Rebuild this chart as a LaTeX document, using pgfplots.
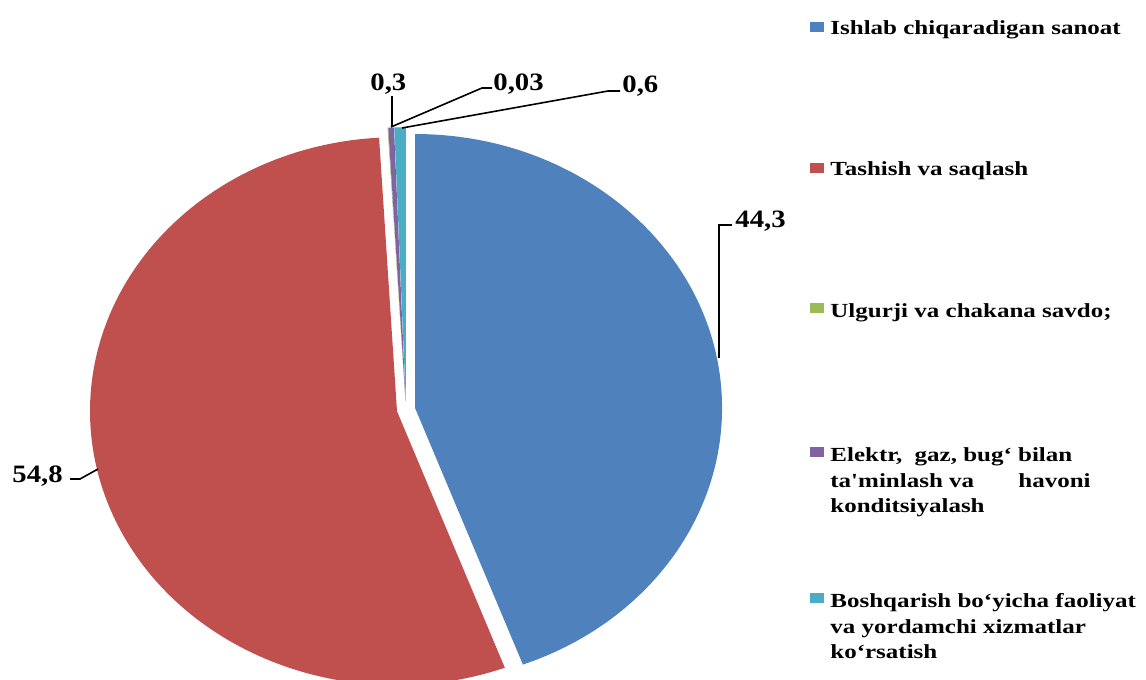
\documentclass[border=0pt]{standalone}
\usepackage{pgfplots}
\pgfplotsset{compat=1.18}
\usepackage{pgfplotstable}
\usepackage{fontspec}
\setmainfont{Liberation Serif}
\newfontfamily\legfont[FakeStretch=1.25]{Liberation Serif}
\newfontfamily\lblfont[FakeStretch=1.15]{Liberation Serif}
\definecolor{cA}{HTML}{4F81BD}
\definecolor{cB}{HTML}{C0504D}
\definecolor{cC}{HTML}{9BBB59}
\definecolor{cD}{HTML}{8064A2}
\definecolor{cE}{HTML}{4BACC6}

% shares, in the order of the slices (clockwise from 12 o'clock)
\pgfplotstableread{
value
44.3
54.8
0.03
0.3
0.6
}\piedata

% pie geometry in pixel units of the picture
\def\pcx{406}\def\pcy{409.5}\def\prx{307}\def\pry{274}\def\pex{0.03}

\newcommand\pieslice[3]{%
  \pgfmathsetmacro\pmid{(#1+#2)/2}%
  \pgfmathsetmacro\pax{\pcx+\pex*\prx*cos(\pmid)}%
  \pgfmathsetmacro\pay{\pcy-\pex*\pry*sin(\pmid)}%
  \pgfmathsetmacro\ppx{\pax+\prx*cos(#1)}%
  \pgfmathsetmacro\ppy{\pay-\pry*sin(#1)}%
  \pgfmathsetmacro\prxpt{\prx*0.5}%
  \pgfmathsetmacro\prypt{\pry*0.5}%
  \edef\ptemp{\noexpand\addplot[fill=#3, draw=none, forget plot] coordinates {(\pax,\pay)} -- (axis cs:\ppx,\ppy) arc[start angle=#1, end angle=#2, x radius=\prxpt pt, y radius=\prypt pt] -- cycle;}%
  \ptemp
}

\begin{document}
\begin{tikzpicture}
\pgfplotstablegetelem{0}{value}\of\piedata \let\vA\pgfplotsretval
\pgfplotstablegetelem{1}{value}\of\piedata \let\vB\pgfplotsretval
\pgfplotstablegetelem{2}{value}\of\piedata \let\vC\pgfplotsretval
\pgfplotstablegetelem{3}{value}\of\piedata \let\vD\pgfplotsretval
\pgfplotstablegetelem{4}{value}\of\piedata \let\vE\pgfplotsretval
\pgfmathsetmacro\tot{\vA+\vB+\vC+\vD+\vE}
\pgfmathsetmacro\aA{90}
\pgfmathsetmacro\aB{\aA-\vA/\tot*360}
\pgfmathsetmacro\aC{\aB-\vB/\tot*360}
\pgfmathsetmacro\aD{\aC-\vC/\tot*360}
\pgfmathsetmacro\aE{\aD-\vD/\tot*360}
\pgfmathsetmacro\aF{\aE-\vE/\tot*360}
\begin{axis}[
  width=573pt, height=340pt, scale only axis,
  xmin=0, xmax=1146, ymin=0, ymax=680, y dir=reverse,
  hide axis, clip=true,
]
\pieslice{\aA}{\aB}{cA}
\pieslice{\aB}{\aC}{cB}
\pieslice{\aC}{\aD}{cC}
\pieslice{\aD}{\aE}{cD}
\pieslice{\aE}{\aF}{cE}

% leader lines
\draw[black, line width=0.8pt] (axis cs:392,127) -- (axis cs:392,96);
\draw[black, line width=0.8pt] (axis cs:391,127) -- (axis cs:482,88) -- (axis cs:492,88);
\draw[black, line width=0.8pt] (axis cs:402,128) -- (axis cs:608,91) -- (axis cs:620,91);
\draw[black, line width=0.8pt] (axis cs:719,358) -- (axis cs:719,225) -- (axis cs:732,225);
\draw[black, line width=0.8pt] (axis cs:98,469) -- (axis cs:80,479) -- (axis cs:70,479);

% data labels
\begin{scope}[every node/.style={anchor=base west, inner sep=0pt, font=\lblfont\bfseries\fontsize{12.5}{15}\selectfont}]
\node at (axis cs:370,90) {0,3};
\node at (axis cs:493,90) {0,03};
\node at (axis cs:622,92) {0,6};
\node at (axis cs:735,227) {44,3};
\node at (axis cs:12,482) {54,8};
\end{scope}

% legend
\fill[cA] (axis cs:810,22) rectangle (axis cs:824,32);
\fill[cB] (axis cs:810,163) rectangle (axis cs:824,173);
\fill[cC] (axis cs:810,303) rectangle (axis cs:824,313);
\fill[cD] (axis cs:810,447) rectangle (axis cs:824,457);
\fill[cE] (axis cs:810,593) rectangle (axis cs:824,603);
\begin{scope}[every node/.style={anchor=base west, inner sep=0pt, font=\legfont\bfseries\fontsize{10}{12.85}\selectfont}]
\node at (axis cs:830,34.5) {Ishlab chiqaradigan sanoat};
\node at (axis cs:830,175.5) {Tashish va saqlash};
\node at (axis cs:830,317) {Ulgurji va chakana savdo;};
\node at (axis cs:830,461) {Elektr,\hspace{0.3em} gaz, bug‘ bilan};
\node at (axis cs:830,487) {ta'minlash va};
\node at (axis cs:1018,487) {havoni};
\node at (axis cs:830,512) {konditsiyalash};
\node at (axis cs:830,607) {Boshqarish bo‘yicha faoliyat};
\node at (axis cs:830,633) {va yordamchi xizmatlar};
\node at (axis cs:830,658) {ko‘rsatish};
\end{scope}
\end{axis}
\pgfresetboundingbox
\path (current axis.south west) rectangle (current axis.north east);
\end{tikzpicture}
\end{document}
